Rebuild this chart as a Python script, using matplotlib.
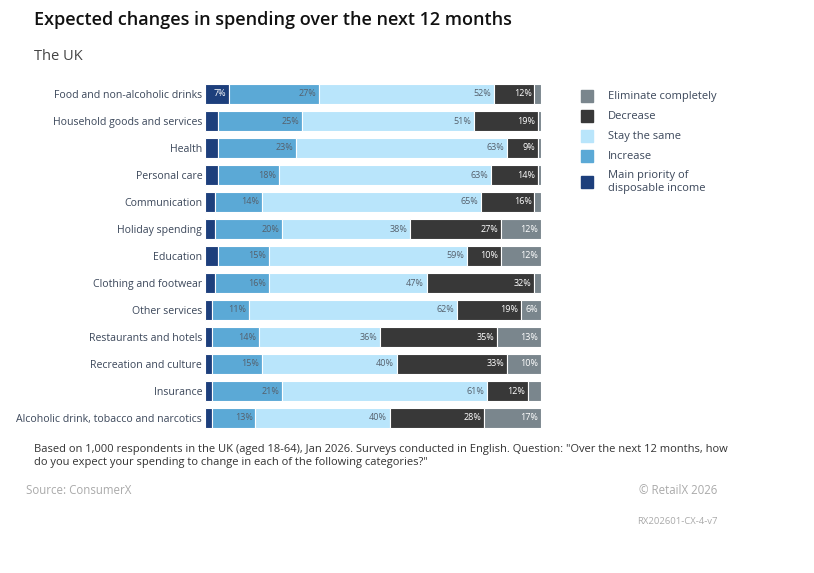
import matplotlib
matplotlib.use("Agg")
import matplotlib.pyplot as plt
from matplotlib.patches import Rectangle

plt.rcParams['font.family'] = ['Open Sans', 'DejaVu Sans']

# data (percentages, top row first)
categories = [
    "Food and non-alcoholic drinks",
    "Household goods and services",
    "Health",
    "Personal care",
    "Communication",
    "Holiday spending",
    "Education",
    "Clothing and footwear",
    "Other services",
    "Restaurants and hotels",
    "Recreation and culture",
    "Insurance",
    "Alcoholic drink, tobacco and narcotics",
]
main_priority = [7, 4, 4, 4, 3, 3, 4, 3, 2, 2, 2, 2, 2]
increase = [27, 25, 23, 18, 14, 20, 15, 16, 11, 14, 15, 21, 13]
stay_same = [52, 51, 63, 63, 65, 38, 59, 47, 62, 36, 40, 61, 40]
decrease = [12, 19, 9, 14, 16, 27, 10, 32, 19, 35, 33, 12, 28]
eliminate = [2, 1, 1, 1, 2, 12, 12, 2, 6, 13, 10, 4, 17]

series = [
    ("Main priority of\ndisposable income", main_priority, "#1d3f7c", "white"),
    ("Increase", increase, "#5ba9d6", "#55606c"),
    ("Stay the same", stay_same, "#b9e5fb", "#55606c"),
    ("Decrease", decrease, "#383838", "white"),
    ("Eliminate completely", eliminate, "#7a868d", "white"),
]

fig = plt.figure(figsize=(8.14, 5.73), dpi=100)
ax = fig.add_axes([205 / 814, 1 - 431.5 / 573, 336 / 814, 351 / 573])

y = list(range(len(categories)))
left = [0] * len(categories)
for name, vals, color, tcolor in series:
    ax.barh(y, vals, left=left, height=0.76, color=color,
            edgecolor="white", linewidth=0.8)
    for i, v in enumerate(vals):
        if v >= 6:
            ax.text(left[i] + v - 0.8, i, f"{v}%", ha="right", va="center",
                    fontsize=6.5, color=tcolor)
    left = [l + v for l, v in zip(left, vals)]

ax.set_xlim(0, 100)
ax.set_ylim(len(categories) - 0.5, -0.5)
ax.set_yticks(y)
ax.set_yticklabels(categories, fontsize=7.6, color="#3b475a")
ax.tick_params(axis="y", length=0, pad=2)
ax.set_xticks([])
for s in ax.spines.values():
    s.set_visible(False)

# titles
fig.text(34 / 814, 1 - 20 / 573, "Expected changes in spending over the next 12 months",
         fontsize=13, fontweight="semibold", color="#111111", va="center")
fig.text(34 / 814, 1 - 57 / 573, "The UK", fontsize=10.5, color="#444444", va="center")

# legend
legend_y = [96, 116, 136, 156, 182]
for (name, vals, color, tcolor), ly in zip(series[::-1], legend_y):
    fig.patches.append(Rectangle(((581) / 814, 1 - (ly + 6) / 573), 12 / 814, 12 / 573,
                                 color=color, transform=fig.transFigure))
    fig.text(608 / 814, 1 - ly / 573, name, fontsize=8, color="#3b475a",
             va="center", linespacing=1.25)

# footer
fig.text(34 / 814, 1 - 456 / 573,
         "Based on 1,000 respondents in the UK (aged 18-64), Jan 2026. Surveys conducted in English. "
         "Question: \"Over the next 12 months, how\ndo you expect your spending to change in each "
         "of the following categories?\"",
         fontsize=8, color="#333333", va="center", linespacing=1.35)
fig.text(26 / 814, 1 - 491 / 573, "Source: ConsumerX", fontsize=8.3, color="#aaaaaa",
         va="center")
fig.text(717 / 814, 1 - 491 / 573, "\u00a9 RetailX 2026", fontsize=8.3, color="#aaaaaa",
         va="center", ha="right")
fig.text(717 / 814, 1 - 522 / 573, "RX202601-CX-4-v7", fontsize=6.8, color="#aaaaaa",
         va="center", ha="right")

fig.savefig("out.png", dpi=100)
